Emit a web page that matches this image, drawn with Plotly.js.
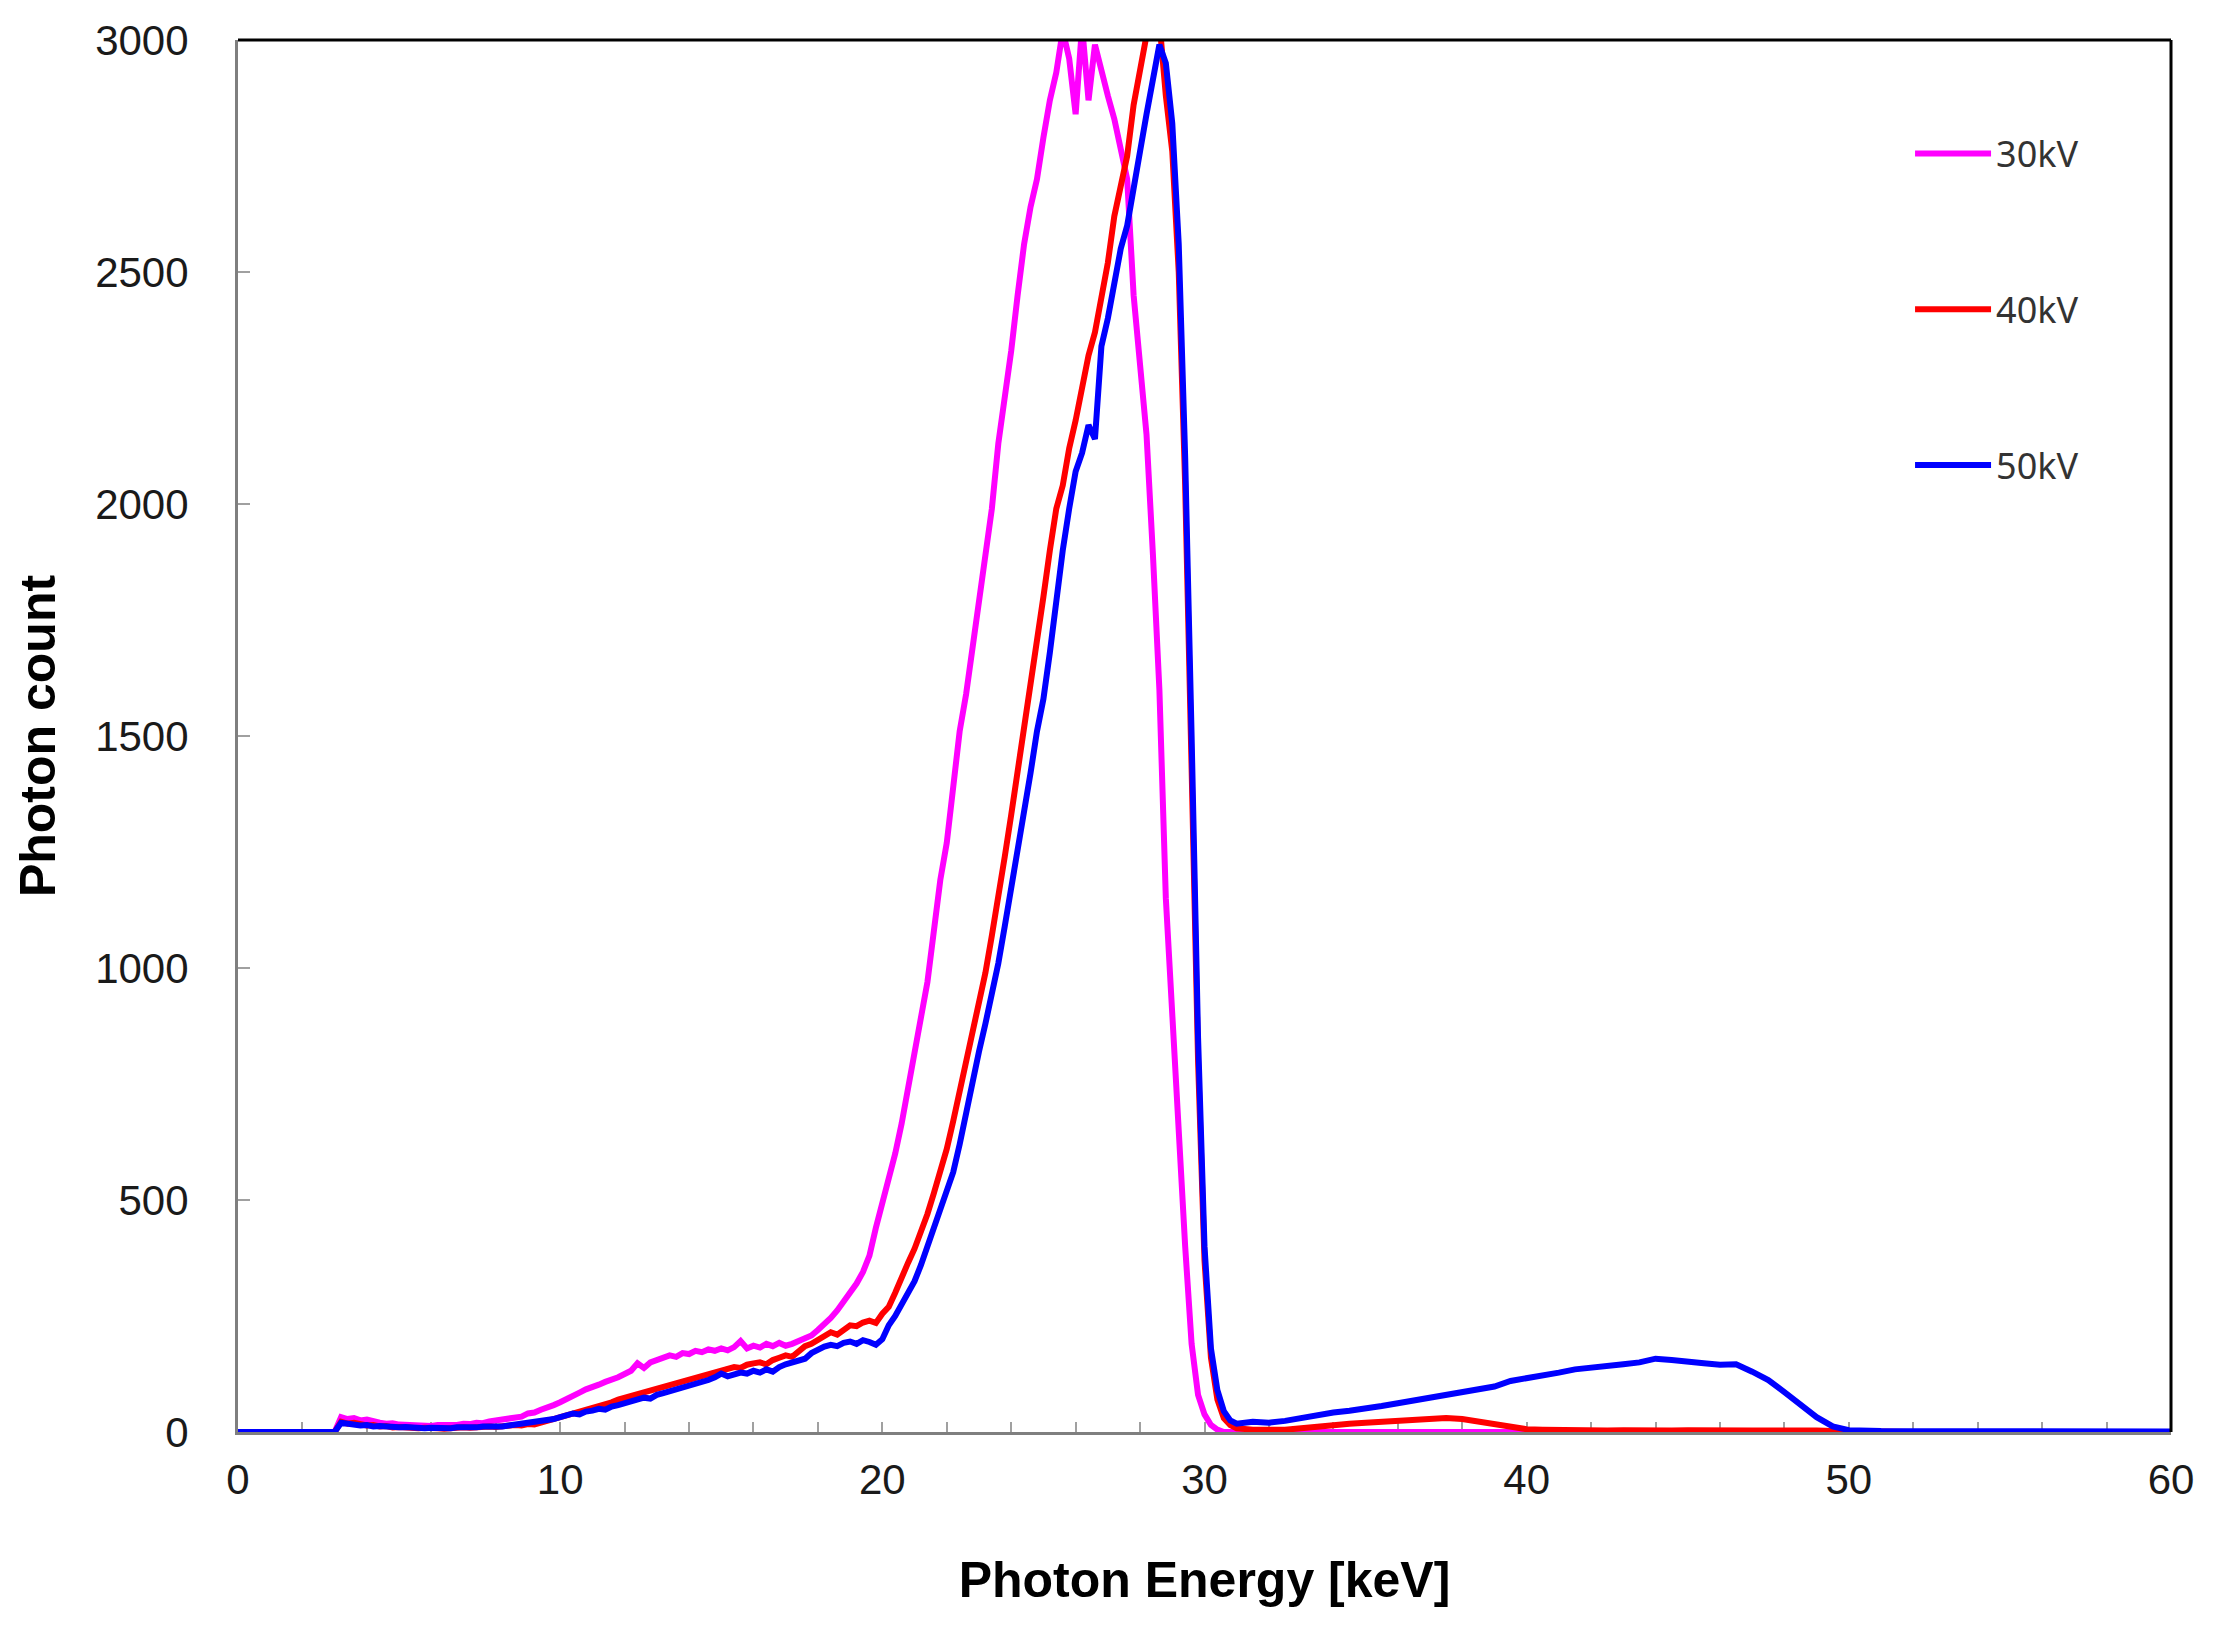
<!DOCTYPE html>
<html>
<head>
<meta charset="utf-8">
<script src="https://cdn.plot.ly/plotly-3.0.1.min.js"></script>
<style>
  html, body { margin: 0; padding: 0; background: #ffffff; }
  #chart { width: 2215px; height: 1626px; }
</style>
</head>
<body>
<div id="chart"></div>
<script>
// photon energy of each bin [keV]
var energy = [
    0, 1, 2, 3,
    3.2, 3.4, 3.6, 3.8, 4, 4.2, 4.4, 4.6, 4.8, 5, 5.2, 5.4, 5.6, 5.8, 6, 6.2, 6.4, 6.6, 6.8, 7,
    7.2, 7.4, 7.6, 7.8, 8, 8.2, 8.4, 8.6, 8.8, 9, 9.2, 9.4, 9.6, 9.8, 10,
    10.2, 10.4, 10.6, 10.8, 11, 11.2, 11.4, 11.6, 11.8, 12, 12.2, 12.4, 12.6, 12.8, 13,
    13.2, 13.4, 13.6, 13.8, 14, 14.2, 14.4, 14.6, 14.8, 15, 15.2, 15.4, 15.6, 15.8, 16,
    16.2, 16.4, 16.6, 16.8, 17, 17.2, 17.4, 17.6, 17.8, 18, 18.2, 18.4, 18.6, 18.8, 19,
    19.2, 19.4, 19.6, 19.8, 20,
    20.2, 20.4, 20.6, 20.8, 21, 21.2, 21.4, 21.6, 21.8, 22, 22.2, 22.4, 22.6, 22.8, 23,
    23.2, 23.4, 23.6, 23.8, 24, 24.2, 24.4, 24.6, 24.8, 25, 25.2, 25.4, 25.6, 25.8, 26,
    26.2, 26.4, 26.6, 26.8, 27, 27.2, 27.4, 27.6, 27.8, 28, 28.2, 28.4, 28.6, 28.8, 29,
    29.2, 29.4, 29.6, 29.8, 30, 30.2, 30.4, 30.6, 30.8, 31,
    31.5, 32, 32.5, 33, 33.5, 34, 34.5, 35, 35.5, 36, 36.5, 37, 37.5, 38, 38.5, 39, 39.5, 40,
    40.5, 41, 41.5, 42, 42.5, 43, 43.5, 44, 44.5, 45, 45.5, 46, 46.5, 47, 47.5, 48, 48.5, 49,
    49.5, 50,
    51, 52, 53, 54, 55, 56, 57, 58, 59, 60
];

var counts30kV = [
    0, 0, 0, 0,
    32, 28, 30, 25, 27, 22, 20, 18, 19, 16, 15, 17, 14, 15, 13, 15, 14, 16, 15, 18,
    17, 20, 19, 23, 25, 24, 28, 30, 33, 40, 42, 48, 52, 58, 64,
    70, 78, 85, 92, 96, 102, 108, 112, 118, 125, 132, 148, 138, 150, 156,
    160, 165, 162, 170, 168, 175, 172, 178, 175, 180, 176, 183, 196, 180, 186,
    182, 190, 185, 192, 186, 190, 195, 200, 208, 220, 232, 246, 262, 280, 298,
    320, 345, 380, 440, 490,
    545, 600, 665, 740, 815, 880, 970, 1080, 1190, 1270, 1380, 1510, 1590, 1690, 1800,
    1890, 1990, 2130, 2220, 2330, 2450, 2560, 2640, 2700, 2790, 2870, 2930, 3020, 2960, 2840,
    3030, 2870, 2990, 2930, 2880, 2830, 2770, 2700, 2450, 2310, 2150, 1890, 1600, 1150, 900,
    600, 400, 190, 80, 38, 15, 5, 0, 0, 0,
    0, 0, 0, 0, 0, 0, 0, 0, 0, 0, 0, 0, 0, 0, 0, 0, 0, 0,
    0, 0, 0, 0, 0, 0, 0, 0, 0, 0, 0, 0, 0, 0, 0, 0, 0, 0,
    0, 0,
    0, 0, 0, 0, 0, 0, 0, 0, 0, 0
];

var counts40kV = [
    0, 0, 0, 0,
    22, 18, 20, 16, 14, 15, 12, 13, 10, 11, 9, 10, 8, 9, 7, 8, 7, 9, 8, 10,
    9, 11, 10, 12, 11, 13, 12, 15, 14, 17, 16, 20, 22, 26, 30,
    34, 38, 42, 45, 50, 55, 60, 64, 70, 74, 78, 82, 86, 90, 94,
    98, 100, 106, 110, 112, 116, 120, 125, 130, 134, 136, 140, 138, 145, 148,
    150, 146, 155, 160, 165, 162, 175, 185, 190, 198, 205, 215, 210, 222, 230,
    228, 236, 240, 235, 255,
    270, 300, 335, 365, 395, 430, 470, 515, 560, 610, 670, 735, 790, 850, 920,
    990, 1070, 1150, 1240, 1330, 1420, 1510, 1600, 1690, 1800, 1900, 1990, 2040, 2120, 2180,
    2250, 2320, 2370, 2450, 2520, 2620, 2690, 2750, 2860, 2930, 3010, 3050, 3040, 2880, 2760,
    2500, 2040, 1430, 800, 370, 160, 70, 30, 15, 8,
    5, 4, 5, 8, 12, 15, 18, 20, 22, 25, 24, 28, 30, 28, 22, 15, 9, 6,
    5, 4, 5, 4, 3, 4, 3, 4, 3, 4, 3, 3, 4, 3, 3, 4, 3, 3,
    2, 1,
    0, 0, 0, 0, 0, 0, 0, 0, 0, 0
];

var counts50kV = [
    0, 0, 0, 0,
    20, 17, 15, 14, 15, 12, 13, 11, 12, 10, 11, 9, 10, 8, 9, 8, 9, 8, 10, 9,
    11, 10, 12, 11, 13, 12, 14, 16, 15, 18, 20, 22, 25, 28, 32,
    36, 40, 38, 44, 46, 50, 48, 55, 58, 62, 66, 70, 74, 72, 80,
    84, 88, 92, 96, 98, 103, 106, 112, 118, 126, 120, 124, 128, 126, 132,
    128, 135, 130, 140, 146, 150, 155, 158, 170, 178, 184, 188, 185, 192, 195,
    190, 198, 194, 188, 200,
    230, 250, 275, 300, 325, 360, 400, 440, 475, 515, 560, 620, 690, 760, 820,
    880, 940, 1010, 1090, 1170, 1250, 1330, 1420, 1510, 1580, 1680, 1800, 1900, 1990, 2070,
    2110, 2170, 2140, 2340, 2400, 2480, 2550, 2600, 2690, 2760, 2840, 2910, 2990, 2950, 2820,
    2560, 2100, 1500, 850, 400, 180, 90, 45, 25, 18,
    22, 20, 24, 30, 38, 42, 46, 50, 56, 62, 68, 72, 80, 86, 90, 98, 110, 115,
    120, 128, 135, 138, 140, 146, 150, 158, 155, 150, 148, 145, 146, 130, 112, 86, 58, 32,
    12, 4,
    2, 2, 1, 2, 1, 1, 2, 1, 1, 1
];

var seriesNames = ["30kV", "40kV", "50kV"];
var seriesColors = ["#ff00ff", "#ff0000", "#0000ff"];
var seriesCounts = [counts30kV, counts40kV, counts50kV];

var xTickValues = [0, 10, 20, 30, 40, 50, 60];
var yTickValues = [0, 500, 1000, 1500, 2000, 2500, 3000];

var traces = seriesNames.map(function (name, i)
{
    return {
        x: energy,
        y: seriesCounts[i],
        mode: "lines",
        type: "scatter",
        name: name,
        legendgroup: name,
        line: { color: seriesColors[i], width: 6 }
    };
});

var tickFont = { family: "Liberation Sans, Arial, sans-serif", size: 42, color: "#1a1a1a" };
var titleFont = { family: "Liberation Sans, Arial, sans-serif", size: 50, color: "#000000", weight: "bold" };

var layout = {
    width: 2215,
    height: 1626,
    margin: { l: 238, r: 44, t: 40, b: 194 },
    paper_bgcolor: "#ffffff",
    plot_bgcolor: "#ffffff",
    showlegend: true,
    legend: {
        x: 0.865, y: 0.94, xanchor: "left", yanchor: "top",
        font: { family: "Noto Sans, DejaVu Sans, sans-serif", size: 36, color: "#333333" },
        itemwidth: 76,
        tracegroupgap: 106,
        bgcolor: "rgba(0,0,0,0)"
    },
    xaxis: {
        range: [0, 60],
        tickvals: xTickValues,
        ticks: "inside",
        ticklen: 10,
        tickwidth: 2,
        tickcolor: "#a0a0a0",
        minor: { dtick: 2, tick0: 0, ticks: "inside", ticklen: 10, tickwidth: 2, tickcolor: "#a0a0a0" },
        showgrid: false,
        zeroline: false,
        showline: true,
        linecolor: "#7f7f7f",
        linewidth: 3,
        layer: "below traces",
        tickfont: tickFont,
        ticklabelstandoff: 9,
        title: { text: "Photon Energy [keV]", font: titleFont, standoff: 60 }
    },
    yaxis: {
        range: [0, 3000],
        tickvals: yTickValues,
        ticks: "inside",
        ticklen: 12,
        tickwidth: 2,
        tickcolor: "#a0a0a0",
        showgrid: false,
        zeroline: false,
        showline: true,
        linecolor: "#7f7f7f",
        linewidth: 3,
        layer: "below traces",
        tickfont: tickFont,
        ticklabelstandoff: 38,
        title: { text: "Photon count", font: titleFont, standoff: 24 }
    },
    shapes: [
        { type: "line", xref: "paper", yref: "paper", x0: 0, x1: 1, y0: 1, y1: 1, line: { color: "#000000", width: 3 } },
        { type: "line", xref: "paper", yref: "paper", x0: 1, x1: 1, y0: 0, y1: 1, line: { color: "#000000", width: 3 } }
    ]
};

var config = { staticPlot: true, displayModeBar: false };

Plotly.newPlot("chart", traces, layout, config);
</script>
</body>
</html>
